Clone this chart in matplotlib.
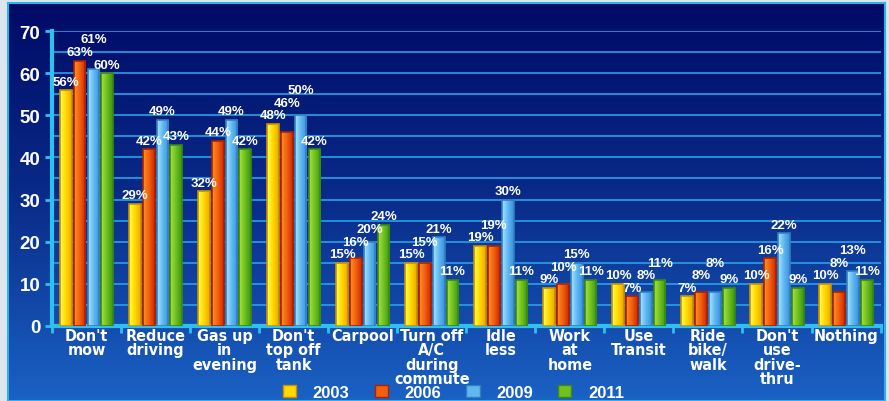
import matplotlib.pyplot as plt
import numpy as np
from matplotlib.patches import Patch
from matplotlib.colors import LinearSegmentedColormap
from matplotlib import font_manager

cats = ["Don't\nmow", "Reduce\ndriving", "Gas up\nin\nevening", "Don't\ntop off\ntank",
        "Carpool", "Turn off\nA/C\nduring\ncommute", "Idle\nless", "Work\nat\nhome",
        "Use\nTransit", "Ride\nbike/\nwalk", "Don't\nuse\ndrive-\nthru", "Nothing"]
years = ['2003', '2006', '2009', '2011']
v2003 = [56, 29, 32, 48, 15, 15, 19, 9, 10, 7, 10, 10]
v2006 = [63, 42, 44, 46, 16, 15, 19, 10, 7, 8, 16, 8]
v2009 = [61, 49, 49, 50, 20, 21, 30, 15, 8, 8, 22, 13]
v2011 = [60, 43, 42, 42, 24, 11, 11, 11, 11, 9, 9, 11]
series = [v2003, v2006, v2009, v2011]

colors = ['#ffd800', '#f06010', '#60b8f0', '#70c020']
edges = ['#c89000', '#b02000', '#3080c0', '#3a8a10']
# light / dark ends of each bar's shading
shades = [('#ffff50', '#f0a800'), ('#ff9020', '#d02800'),
          ('#a8e4ff', '#3a90e0'), ('#a8e040', '#3a9810')]

names = {f.name for f in font_manager.fontManager.ttflist}
narrow = 'Liberation Sans Narrow' if 'Liberation Sans Narrow' in names else 'DejaVu Sans'
plt.rcParams['font.family'] = ['Liberation Sans', 'DejaVu Sans']

fig = plt.figure(figsize=(8.89, 4.02), dpi=100)
fig.patch.set_facecolor('#dde6ef')

# background panel with vertical gradient
bg = fig.add_axes([0.009, 0.0, 0.987, 0.99])
grad = np.linspace(0, 1, 256).reshape(-1, 1)
cmap = LinearSegmentedColormap.from_list('bgc', ['#1a62c4', '#0a2c8a', '#000a66'])
bg.imshow(grad, aspect='auto', cmap=cmap, origin='lower', extent=[0, 1, 0, 1])
bg.set_xlim(0, 1)
bg.set_ylim(0, 1)
for s in bg.spines.values():
    s.set_color('#30b0e8')
    s.set_linewidth(1.5)
bg.set_xticks([])
bg.set_yticks([])

ax = fig.add_axes([0.0585, 0.187, 0.932, 0.733])
ax.set_facecolor('none')
n = len(cats)
x = np.arange(n)
w = 0.17
step = 0.2
hgrad = np.linspace(0, 1, 32).reshape(1, -1)
for i, vals in enumerate(series):
    pos = x + (i - 1.5) * step
    bars = ax.bar(pos, vals, width=w, color=colors[i], linewidth=0, zorder=3)
    ax.bar(pos, vals, width=w, facecolor='none', edgecolor=edges[i], linewidth=1.2, zorder=3.7)
    bcmap = LinearSegmentedColormap.from_list('b%d' % i, [shades[i][0], colors[i], shades[i][1]])
    for b in bars:
        x0, y0 = b.get_x(), b.get_y()
        im = ax.imshow(hgrad, cmap=bcmap, aspect='auto', zorder=3.5,
                       extent=[x0, x0 + b.get_width(), y0, y0 + b.get_height()])
        im.set_clip_path(b)

# value labels, lifted a little when they would sit on top of the neighbour's label
for g in range(n):
    prev = None
    for i, vals in enumerate(series):
        ly = vals[g] + 0.6
        if prev is not None and abs(ly - prev) < 3:
            ly = prev + 3
        prev = ly
        ax.text(g + (i - 1.5) * step, ly, f'{vals[g]}%', ha='center', va='bottom',
                color='white', fontsize=9.5, fontweight='bold', zorder=4)

ax.set_xlim(-0.5, n - 0.5)
ax.set_ylim(0, 70)
ax.set_yticks(range(0, 71, 10))
ax.set_yticks(range(0, 71, 5), minor=True)
ax.yaxis.grid(True, which='both', color='#2aa0e8', linewidth=1.2, zorder=0)
ax.tick_params(axis='y', which='both', colors='#30c0f0', labelcolor='white',
               labelsize=13.5, width=2, length=5)
ax.tick_params(axis='y', which='minor', length=0)
for lab in ax.get_yticklabels():
    lab.set_fontweight('bold')

ax.set_xticks(x)
ax.set_xticklabels(cats, color='white', fontsize=11.5, fontweight='bold', linespacing=0.95,
                   family=narrow, fontstretch='condensed')
ax.tick_params(axis='x', length=0, pad=1.5)
ax.set_xticks(np.arange(-0.5, n, 1), minor=True)
ax.tick_params(axis='x', which='minor', length=5, width=2, colors='#30c0f0')

for s in ['top', 'right']:
    ax.spines[s].set_visible(False)
ax.spines['left'].set_color('#30c0f0')
ax.spines['left'].set_linewidth(3)
ax.spines['bottom'].set_color('#30c0f0')
ax.spines['bottom'].set_linewidth(3)

handles = [Patch(facecolor=colors[i], edgecolor=edges[i]) for i in range(4)]
leg = fig.legend(handles, years, loc='center', bbox_to_anchor=(0.51, 0.022), ncol=4,
                 frameon=False, handlelength=0.8, handleheight=0.8, columnspacing=1.5,
                 handletextpad=1.0, fontsize=12)
for t in leg.get_texts():
    t.set_color('white')
    t.set_fontweight('bold')

fig.savefig('out.png', dpi=100, facecolor=fig.get_facecolor())
